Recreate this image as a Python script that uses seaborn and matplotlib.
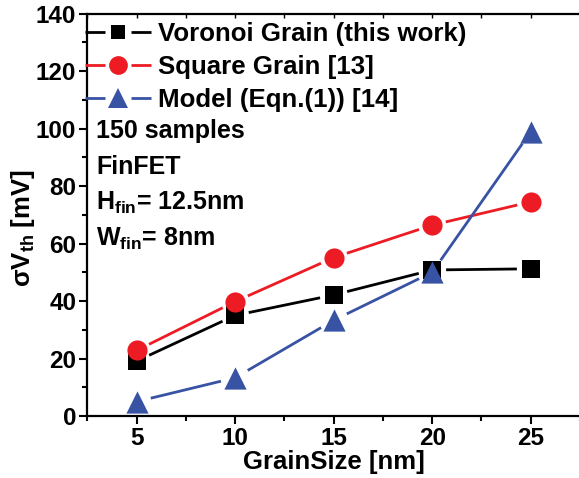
import numpy as np
import pandas as pd
import matplotlib
matplotlib.use("Agg")
import matplotlib.pyplot as plt
import seaborn as sns
from matplotlib.lines import Line2D
from matplotlib.legend_handler import HandlerBase
from matplotlib.ticker import MultipleLocator

# sigma-Vth versus grain size for three approaches
grain_size = [5, 10, 15, 20, 25]
voronoi_grain = [19.1, 35.0, 42.1, 50.8, 51.2]
square_grain = [22.8, 39.8, 55.1, 66.4, 74.5]
model_eqn = [5.0, 13.3, 33.3, 50.0, 98.9]

series_labels = ["Voronoi Grain (this work)", "Square Grain [13]", "Model (Eqn.(1)) [14]"]
series_colors = ["#000000", "#ED1C24", "#3953A4"]
series_markers = ["s", "o", "^"]
series_ms = [12.5, 14.5, 16.0]        # marker sizes in points
series_gap = [10.0, 10.0, 10.5]       # line gap around each marker, points

info_lines = ["150 samples", "FinFET",
              "H$_{\\mathbf{fin}}$= 12.5nm", "W$_{\\mathbf{fin}}$= 8nm"]

sns.set_style("ticks")
plt.rcParams["font.family"] = ["Liberation Sans", "DejaVu Sans"]
plt.rcParams["font.weight"] = "bold"
plt.rcParams["text.color"] = "black"
plt.rcParams["axes.labelcolor"] = "black"
plt.rcParams["xtick.color"] = "black"
plt.rcParams["ytick.color"] = "black"
plt.rcParams["axes.edgecolor"] = "black"
plt.rcParams["mathtext.fontset"] = "custom"
plt.rcParams["mathtext.rm"] = "Liberation Sans:bold"
plt.rcParams["mathtext.bf"] = "Liberation Sans:bold"
plt.rcParams["mathtext.it"] = "Liberation Sans:bold"

df = pd.DataFrame({"GrainSize": grain_size * 3,
                   "sigma": voronoi_grain + square_grain + model_eqn,
                   "series": sum([[s] * len(grain_size) for s in series_labels], [])})

fig = plt.figure(figsize=(5.79, 4.78), dpi=100)
ax = fig.add_axes([0.1508, 0.1297, 0.851, 0.842])

# connecting segments, stopped short of each marker
for (name, color, gap) in zip(series_labels, series_colors, series_gap):
    sub = df[df["series"] == name]
    xs, ys = sub["GrainSize"].to_numpy(), sub["sigma"].to_numpy()
    for i in range(len(xs) - 1):
        ax.annotate("", xy=(xs[i + 1], ys[i + 1]), xytext=(xs[i], ys[i]),
                    xycoords="data", textcoords="data", annotation_clip=False,
                    arrowprops=dict(arrowstyle="-", color=color, lw=2.0,
                                    shrinkA=gap, shrinkB=gap,
                                    capstyle="butt"))

# markers
for (name, color, mk, ms) in zip(series_labels, series_colors, series_markers, series_ms):
    sub = df[df["series"] == name]
    sns.scatterplot(data=sub, x="GrainSize", y="sigma", marker=mk, s=ms ** 2,
                    color=color, linewidth=0, ax=ax, zorder=3, legend=False)

ax.set_xlim(2.5, 27.5)
ax.set_ylim(0, 140)
ax.xaxis.set_major_locator(MultipleLocator(5))
ax.xaxis.set_minor_locator(MultipleLocator(2.5))
ax.yaxis.set_major_locator(MultipleLocator(20))
ax.yaxis.set_minor_locator(MultipleLocator(10))

for side in ["left", "bottom"]:
    ax.spines[side].set_linewidth(1.6)
ax.spines["right"].set_visible(False)
ax.spines["top"].set_visible(False)

ax.tick_params(axis="both", which="major", direction="out", length=6, width=1.5,
               labelsize=17.5, pad=2)
ax.tick_params(axis="both", which="minor", direction="out", length=3.5, width=1.5)
for lab in ax.get_xticklabels() + ax.get_yticklabels():
    lab.set_fontweight("bold")

top = ax.secondary_xaxis("top")
top.xaxis.set_major_locator(MultipleLocator(2.5))
top.tick_params(axis="x", which="major", direction="in", length=3, width=1.0,
                labeltop=False)
top.tick_params(axis="x", which="minor", length=0)
top.spines["top"].set_linewidth(1.6)

ax.set_xlabel("GrainSize [nm]", fontsize=18.5, fontweight="bold", labelpad=0)
ax.set_ylabel("σV$_{\\mathbf{th}}$ [mV]", fontsize=18.5, fontweight="bold")
ax.yaxis.set_label_coords(-0.103, 0.467)


class GapHandler(HandlerBase):
    """Legend key: line, gap, marker, gap, line."""

    def __init__(self, gap_pts):
        super().__init__()
        self.gap_pts = gap_pts

    def create_artists(self, legend, orig_handle, xdescent, ydescent,
                       width, height, fontsize, trans):
        y = height / 2.0 - ydescent
        x0 = -xdescent
        x1 = x0 + width
        xm = (x0 + x1) / 2.0
        g = self.gap_pts
        color = orig_handle.get_color()
        lw = orig_handle.get_linewidth()
        left = Line2D([x0, xm - g], [y, y], color=color, lw=lw, solid_capstyle="butt")
        right = Line2D([xm + g, x1], [y, y], color=color, lw=lw, solid_capstyle="butt")
        mark = Line2D([xm], [y], ls="", marker=orig_handle.get_marker(),
                      markersize=orig_handle.get_markersize(),
                      color=color, markeredgewidth=0)
        for a in (left, right, mark):
            a.set_transform(trans)
        return [left, right, mark]


legend_ms = [10.5, 13.5, 15.0]
handles = [Line2D([], [], color=c, marker=m, markersize=ms, lw=2.0)
           for c, m, ms in zip(series_colors, series_markers, legend_ms)]
leg = ax.legend(handles, series_labels, loc="upper left",
                bbox_to_anchor=(-0.005, 0.98), frameon=False,
                handler_map={Line2D: GapHandler(9.5)},
                handlelength=2.56, handletextpad=0.28, labelspacing=0.36,
                borderpad=0.0, borderaxespad=0.0,
                prop={"family": "Liberation Sans", "weight": "bold", "size": 18.6})

for i, txt in enumerate(info_lines):
    ax.text(0.018, 0.708 - i * 0.0895, txt, transform=ax.transAxes,
            fontsize=18, fontweight="bold", va="center", ha="left")

fig.savefig("out.png", dpi=100)
